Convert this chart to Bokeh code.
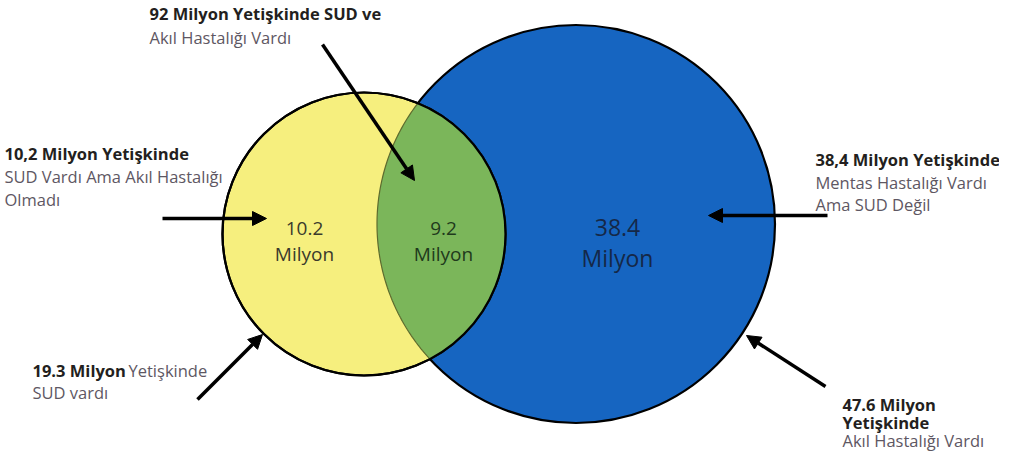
import math
import numpy as np
from bokeh.plotting import figure
from bokeh.models import Range1d, Arrow, NormalHead
from bokeh.core.properties import value
from bokeh.embed import file_html
from bokeh.resources import INLINE

# ---------------- data ----------------
set_names = ["SUD", "Akıl Hastalığı"]
set_totals = [19.3, 47.6]                      # Milyon yetişkin
region_keys = ["sud_only", "both", "mental_only"]
region_values = [10.2, 9.2, 38.4]              # Milyon yetişkin
unit_label = "Milyon"

# callout texts: (bold lines, normal lines)
callout_sud_only_bold = ["10,2 Milyon Yetişkinde"]
callout_sud_only_norm = ["SUD Vardı Ama Akıl Hastalığı", "Olmadı"]
callout_both_bold = ["92 Milyon Yetişkinde SUD ve"]
callout_both_norm = ["Akıl Hastalığı Vardı"]
callout_mental_only_bold = ["38,4 Milyon Yetişkinde"]
callout_mental_only_norm = ["Mentas Hastalığı Vardı", "Ama SUD Değil"]
callout_sud_total_bold = ["19.3 Milyon"]
callout_sud_total_inline = ["Yetişkinde"]
callout_sud_total_norm = ["SUD vardı"]
callout_mental_total_bold = ["47.6 Milyon", "Yetişkinde"]
callout_mental_total_norm = ["Akıl Hastalığı Vardı"]

# ---------------- layout / style ----------------
W, H, M = 999, 456, 8
FONT = "Open Sans"
FS = "16.5px"
BOLD_C = "#231f20"
NORM_C = "#5e5763"
YELLOW = "#f6ef7e"
GREEN = "#7bb65a"
BLUE = "#1665c1"

c1 = (371.5, 241.5, 141.5)   # SUD circle (cx, cy, r)
c2 = (583.5, 231.5, 199.0)   # mental illness circle

p = figure(width=W, height=H, output_backend="svg", toolbar_location=None,
           title=None, x_axis_location=None, y_axis_location=None,
           x_range=Range1d(M, M + W), y_range=Range1d(M + H, M),
           min_border=0, outline_line_color=None)
p.grid.visible = False
p.background_fill_color = "white"
p.border_fill_color = "white"

# circles
p.circle(x=[c2[0]], y=[c2[1]], radius=c2[2], fill_color=BLUE,
         line_color="black", line_width=2.2)
p.circle(x=[c1[0]], y=[c1[1]], radius=c1[2], fill_color=YELLOW,
         line_color="black", line_width=2.2)

# lens (overlap) patch computed from the two circles
x1, y1, r1 = c1
x2, y2, r2 = c2
d = math.hypot(x2 - x1, y2 - y1)
t12 = math.atan2(y2 - y1, x2 - x1)
t21 = math.atan2(y1 - y2, x1 - x2)
a1 = math.acos((d * d + r1 * r1 - r2 * r2) / (2 * d * r1))
a2 = math.acos((d * d + r2 * r2 - r1 * r1) / (2 * d * r2))
ang1 = np.linspace(t12 - a1, t12 + a1, 120)
ang2 = np.linspace(t21 - a2, t21 + a2, 120)
lx = np.concatenate([x1 + r1 * np.cos(ang1), x2 + r2 * np.cos(ang2)])
ly = np.concatenate([y1 + r1 * np.sin(ang1), y2 + r2 * np.sin(ang2)])
p.patch(lx, ly, fill_color=GREEN, line_color="#5d6b2e", line_width=1.2)
# yellow circle outline again on top
p.circle(x=[c1[0]], y=[c1[1]], radius=c1[2], fill_color=None,
         line_color="black", line_width=2.2)

# region value labels
lab_x = [312, 451, 625]
lab_y = [236, 236, 235]
lab_y2 = [261, 261, 265]
lab_size = ["19px", "19px", "23px"]
lab_col = ["#3b3a2c", "#1f3a1c", "#152848"]
for i, v in enumerate(region_values):
    p.text(x=[lab_x[i]], y=[lab_y[i]], text=[f"{v:.1f}"], text_font=value(FONT),
           text_font_size=lab_size[i], text_color=lab_col[i],
           text_align="center", text_baseline="alphabetic")
    p.text(x=[lab_x[i]], y=[lab_y2[i]], text=[unit_label], text_font=value(FONT),
           text_font_size=lab_size[i], text_color=lab_col[i],
           text_align="center", text_baseline="alphabetic")


def block(x, y0, bold, norm, step=23, size=FS):
    ys = [y0 + step * k for k in range(len(bold) + len(norm))]
    if bold:
        p.text(x=[x] * len(bold), y=ys[:len(bold)], text=bold, text_font=value(FONT),
               text_font_style="bold", text_font_size=size, text_color=BOLD_C,
               text_baseline="alphabetic")
    if norm:
        p.text(x=[x] * len(norm), y=ys[len(bold):], text=norm, text_font=value(FONT),
               text_font_size=size, text_color=NORM_C, text_baseline="alphabetic")


block(12, 161, callout_sud_only_bold, callout_sud_only_norm)
block(157, 21, callout_both_bold, callout_both_norm, step=24)
block(823, 167, callout_mental_only_bold, callout_mental_only_norm, step=22.5)
block(40, 378, callout_sud_total_bold, callout_sud_total_norm, step=22)
p.text(x=[136], y=[378], text=callout_sud_total_inline, text_font=value(FONT),
       text_font_size=FS, text_color=NORM_C, text_baseline="alphabetic")
block(850, 412, callout_mental_total_bold, callout_mental_total_norm, step=18)

# arrows
arrows = [((170, 226), (274, 226)),
          ((330, 52), (422, 188)),
          ((835, 223), (716, 223)),
          ((205, 407), (270, 342)),
          ((833, 394), (754, 343))]
for (xs, ys), (xe, ye) in arrows:
    p.add_layout(Arrow(end=NormalHead(size=14, fill_color="black", line_color="black",
                                      line_width=1),
                       x_start=xs, y_start=ys, x_end=xe, y_end=ye,
                       line_color="black", line_width=3.5))

open("out.html", "w").write(file_html(p, INLINE))
